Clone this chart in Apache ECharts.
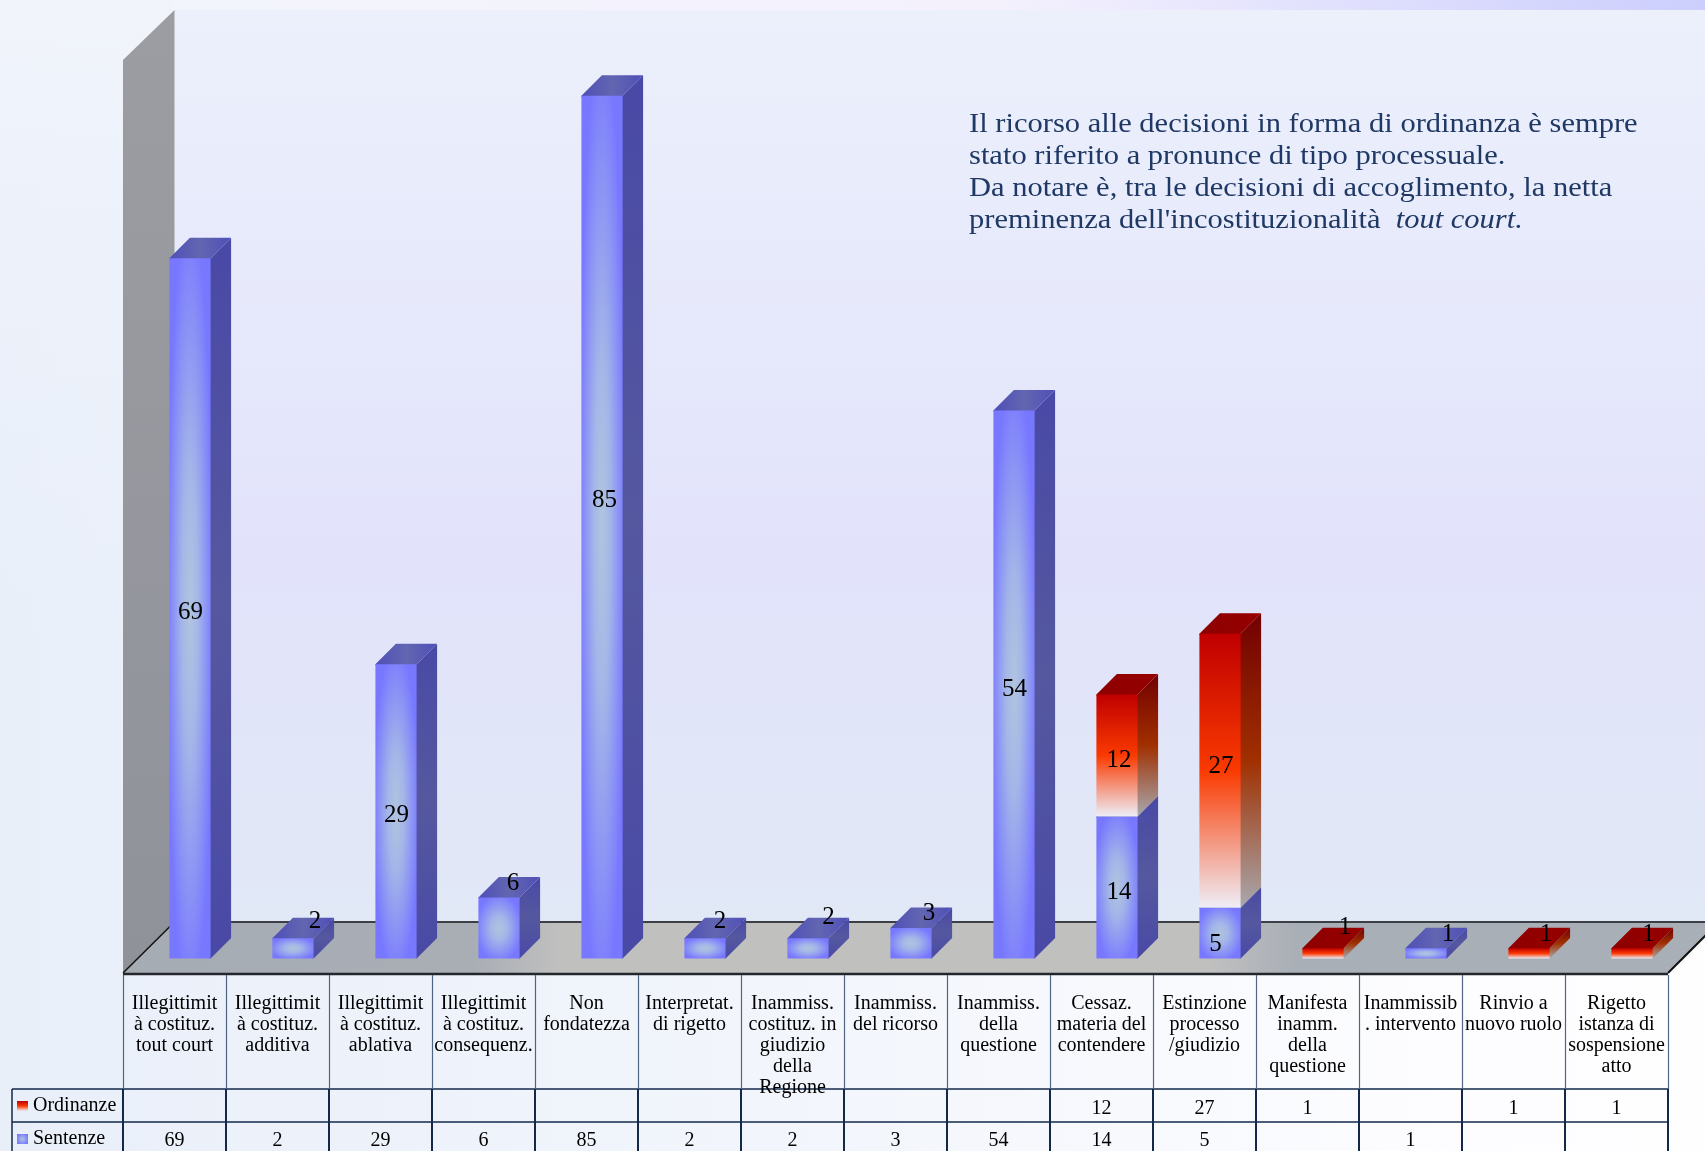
<!DOCTYPE html>
<html>
<head>
<meta charset="utf-8">
<style>html,body{margin:0;padding:0;background:#fff;overflow:hidden}#c{width:1705px;height:1151px}</style>
<script src="https://cdn.jsdelivr.net/npm/echarts@6/dist/echarts.min.js"></script>
</head>
<body>
<div id="c"></div>
<script>
var categories = [
  'Illegittimit\nà costituz.\ntout court',
  'Illegittimit\nà costituz.\nadditiva',
  'Illegittimit\nà costituz.\nablativa',
  'Illegittimit\nà costituz.\nconsequenz.',
  'Non\nfondatezza',
  'Interpretat.\ndi rigetto',
  'Inammiss.\ncostituz. in\ngiudizio\ndella\nRegione',
  'Inammiss.\ndel ricorso',
  'Inammiss.\ndella\nquestione',
  'Cessaz.\nmateria del\ncontendere',
  'Estinzione\nprocesso\n/giudizio',
  'Manifesta\ninamm.\ndella\nquestione',
  'Inammissib\n. intervento',
  'Rinvio a\nnuovo ruolo',
  'Rigetto\nistanza di\nsospensione\natto'
];
var sentenze  = [69, 2, 29, 6, 85, 2, 2, 3, 54, 14, 5, null, 1, null, null];
var ordinanze = [null, null, null, null, null, null, null, null, null, 12, 27, 1, null, 1, 1];
var rowNames = ['Sentenze', 'Ordinanze'];
var noteLines = [
  'Il ricorso alle decisioni in forma di ordinanza è sempre',
  'stato riferito a pronunce di tipo processuale.',
  'Da notare è, tra le decisioni di accoglimento, la netta',
  "preminenza dell'incostituzionalità  {i|tout court.}"
];

var SERIF = '"Liberation Serif", serif';
var DEPTH = 20.5;

// small nudges of the value labels, as placed by hand in the source chart
var sentNudge = {0:[0,2],1:[21.5,-29],2:[0,2],3:[13.5,-47.5],4:[2,-29],5:[14.5,-29],6:[20,-33.5],7:[17.5,-32],8:[0,2],9:[1.5,2.5],10:[-5,9],12:[21.5,-21]};
var ordNudge  = {9:[1.5,2],10:[0.5,-6.5],11:[21.5,-28],13:[16.5,-21],14:[16,-21]};

function lin(x, y, x2, y2, stops) {
  return {type:'linear', x:x, y:y, x2:x2, y2:y2, colorStops:stops.map(function(s){return {offset:s[0], color:s[1]};})};
}
function rad(r, stops) {
  return {type:'radial', x:0.5, y:0.5, r:r, colorStops:stops.map(function(s){return {offset:s[0], color:s[1]};})};
}

var blueFront = rad(0.56, [[0,'#B0C4DE'],[0.35,'#A4B6E8'],[1,'#7878FF']]);
var blueSide  = lin(0,0,0,1, [[0,'#4949A6'],[0.5,'#55589F'],[1,'#4949A6']]);
var blueTop   = lin(0,0,1,0, [[0,'#4F4FB8'],[0.5,'#6266B0'],[1,'#4F4FB8']]);
var redFront  = lin(0,0,0,1, [[0,'#C00000'],[0.5,'#FA3A00'],[1,'#EEEEF8']]);
var redSide   = lin(0,0,0,1, [[0,'#720000'],[0.5,'#A03000'],[1,'#A8A8AE']]);
var redTop    = lin(0,0,1,0, [[0,'#8E0000'],[1,'#960000']]);

function barRenderer(front, side, top, nudge, scaleFront) {
  return function(params, api) {
    var i = api.value(0), lo = api.value(1), hi = api.value(2);
    var pLo = api.coord([i, lo]), pHi = api.coord([i, hi]);
    var w = api.size([1, 0])[0] * 0.4;
    var x0 = pLo[0] - w / 2, x1 = x0 + w, yB = pLo[1], yT = pHi[1];
    var n = nudge[i] || [0, 0];
    var frontEl = scaleFront
      ? {type:'rect', x:x0, y:yT, scaleX:w, scaleY:yB - yT, shape:{x:0, y:0, width:1, height:1}, style:{fill:front}, z2:3}
      : {type:'rect', shape:{x:x0, y:yT, width:w, height:yB - yT}, style:{fill:front}, z2:3};
    return {type:'group', children:[
      {type:'polygon', shape:{points:[[x1-1,yB],[x1,yB],[x1+DEPTH,yB-DEPTH],[x1+DEPTH,yT-DEPTH],[x1,yT],[x1-1,yT]]}, style:{fill:side}, z2:2},
      {type:'polygon', shape:{points:[[x0,yT+1],[x0,yT],[x0+DEPTH,yT-DEPTH],[x1+DEPTH,yT-DEPTH],[x1,yT],[x1,yT+1]]}, style:{fill:top}, z2:2},
      frontEl,
      {type:'text', x:pLo[0] + n[0] + 0.5, y:(yB + yT) / 2 + n[1] + 2.5, z2:50,
        style:{text:String(hi - lo), font:'25px ' + SERIF, fill:'#000', align:'center', verticalAlign:'middle'}}
    ]};
  };
}

var sentData = [], ordData = [];
categories.forEach(function(c, i) {
  if (sentenze[i] != null) sentData.push([i, 0, sentenze[i]]);
  if (ordinanze[i] != null) ordData.push([i, sentenze[i] || 0, (sentenze[i] || 0) + ordinanze[i]]);
});
var cellData = [];
categories.forEach(function(c, i) {
  if (sentenze[i] != null) cellData.push([i, 0, sentenze[i]]);
  if (ordinanze[i] != null) cellData.push([i, 1, ordinanze[i]]);
});

var LINE = '#12294A';
var graphics = [
  // page background
  {type:'rect', shape:{x:0,y:0,width:1705,height:1151}, style:{fill:lin(0,0,1,0,[[0,'#E9EFF9'],[0.5,'#F3F6FC'],[0.85,'#FDFDFF'],[1,'#FEFEFF']])}, z:-10, silent:true},
  {type:'rect', shape:{x:0,y:0,width:1705,height:700}, style:{fill:lin(0,0,0,1,[[0,'#F1F4FB'],[1,'rgba(234,240,250,0)']])}, z:-9, silent:true},
  {type:'rect', shape:{x:174,y:0,width:1531,height:10}, style:{fill:lin(0,0,1,0,[[0,'#F3F5FC'],[0.54,'#F4F1FD'],[1,'#CCCEFD']])}, z:-8, silent:true},
  // back wall
  {type:'rect', shape:{x:174.5,y:10,width:1531,height:912}, style:{fill:lin(0,0,0,1,[[0,'#ECF0FB'],[0.6,'#E2E3FB'],[1,'#E1E8F6']])}, z:-7, silent:true},
  // side wall
  {type:'polygon', shape:{points:[[123,60],[174.5,10],[174.5,922],[123,973]]}, style:{fill:lin(0,0,0,1,[[0,'#9C9DA2'],[1,'#90929A']])}, z:-6, silent:true},
  // floor
  {type:'polygon', shape:{points:[[123,973],[174.5,922],[1719,922],[1668,973]]},
    style:{fill:lin(0,0,1,0.02,[[0,'#A6ACB4'],[0.22,'#A9AEB5'],[0.275,'#C0C0BF'],[0.68,'#C0C0BF'],[0.735,'#A9AFB7'],[1,'#A9AFB7']])}, z:-5, silent:true},
  {type:'polyline', shape:{points:[[174.5,922],[1719,922]]}, style:{stroke:'#3C3F44', lineWidth:2, fill:null}, z:-4, silent:true},
  {type:'polyline', shape:{points:[[123,973],[174.5,922]]}, style:{stroke:'#111', lineWidth:1.5, fill:null}, z:-4, silent:true},
  {type:'polyline', shape:{points:[[1668,973],[1719,922]]}, style:{stroke:'#111', lineWidth:2, fill:null}, z:-4, silent:true},
  {type:'polyline', shape:{points:[[123,974],[1668,974]]}, style:{stroke:'#23272C', lineWidth:2.5, fill:null}, z:-4, silent:true},
  // left box of the row headers
  {type:'polyline', shape:{points:[[12,1089],[12,1151]]}, style:{stroke:LINE, lineWidth:1.5, fill:null}, z:5, silent:true},
  // note
  {type:'text', x:969, y:109, scaleX:1.09, z:20, silent:true,
    style:{text:noteLines.join('\n'), font:'28px ' + SERIF, fill:'#1F3864', lineHeight:32, align:'left', verticalAlign:'top',
      rich:{i:{font:'italic 28px ' + SERIF, fill:'#1F3864', lineHeight:32}}}}
];

function rowLegend(name, top) {
  return {data:[{name:name, icon:'rect'}], left:17, top:top, padding:0, itemWidth:11, itemHeight:10, selectedMode:false,
    textStyle:{fontFamily:SERIF, fontSize:20, color:'#000'}};
}

var option = {
  animation:false,
  backgroundColor:'transparent',
  textStyle:{fontFamily:SERIF},
  graphic:{elements:graphics},
  legend:[rowLegend('Ordinanze', 1096), rowLegend('Sentenze', 1129)],
  grid:[
    {left:138.5, width:1545, top:45, height:913.5, outerBoundsMode:'none'},
    {left:123, width:1545, top:975, height:114, outerBoundsMode:'none'},
    {left:123, width:1545, top:1089, height:65, outerBoundsMode:'none'}
  ],
  xAxis:[
    {gridIndex:0, type:'category', data:categories, show:false},
    {gridIndex:1, type:'category', data:categories, position:'top',
      axisLine:{show:false}, axisTick:{show:false},
      axisLabel:{interval:0, margin:-18, verticalAlign:'top', fontFamily:SERIF, fontSize:20, lineHeight:21, color:'#000', hideOverlap:false},
      splitLine:{show:true, interval:0, showMinLine:true, showMaxLine:true, lineStyle:{color:'#4F6583', width:1.2}}},
    {gridIndex:2, type:'category', data:categories, position:'bottom',
      axisLine:{show:false}, axisTick:{show:false}, axisLabel:{show:false},
      splitLine:{show:true, interval:0, showMinLine:true, showMaxLine:true, lineStyle:{color:LINE, width:2}}}
  ],
  yAxis:[
    {gridIndex:0, type:'value', min:0, max:90, show:false},
    {gridIndex:1, type:'value', show:false},
    {gridIndex:2, type:'category', data:rowNames, position:'left',
      axisLine:{show:false}, axisLabel:{show:false},
      axisTick:{show:true, length:111, lineStyle:{color:LINE, width:1.5}},
      splitLine:{show:true, interval:0, showMinLine:true, lineStyle:{color:LINE, width:1.5}}}
  ],
  series:[
    {name:'Sentenze', type:'custom', xAxisIndex:0, yAxisIndex:0, clip:false, z:3, silent:true,
      encode:{x:0, y:[1,2]}, data:sentData, itemStyle:{color:rad(0.6,[[0,'#B0C4DE'],[1,'#7878FF']])},
      renderItem:barRenderer(blueFront, blueSide, blueTop, sentNudge, true)},
    {name:'Ordinanze', type:'custom', xAxisIndex:0, yAxisIndex:0, clip:false, z:4, silent:true,
      encode:{x:0, y:[1,2]}, data:ordData, itemStyle:{color:lin(0,0,0,1,[[0,'#C00000'],[0.5,'#FA3A00'],[1,'#EEEEF8']])},
      renderItem:barRenderer(redFront, redSide, redTop, ordNudge, false)},
    {name:'Tabella', type:'scatter', xAxisIndex:2, yAxisIndex:2, data:cellData, symbolSize:1, silent:true,
      itemStyle:{color:'rgba(0,0,0,0)', opacity:1}, encode:{x:0, y:1},
      label:{show:true, position:'inside', offset:[0,3], fontFamily:SERIF, fontSize:20, color:'#000',
        textBorderWidth:0, textBorderColor:'transparent',
        formatter:function(p){return String(p.value[2]);}}}
  ]
};
var chart = echarts.init(document.getElementById('c'), null, {renderer:'canvas', width:1705, height:1151});
chart.setOption(option);
</script>
</body>
</html>
